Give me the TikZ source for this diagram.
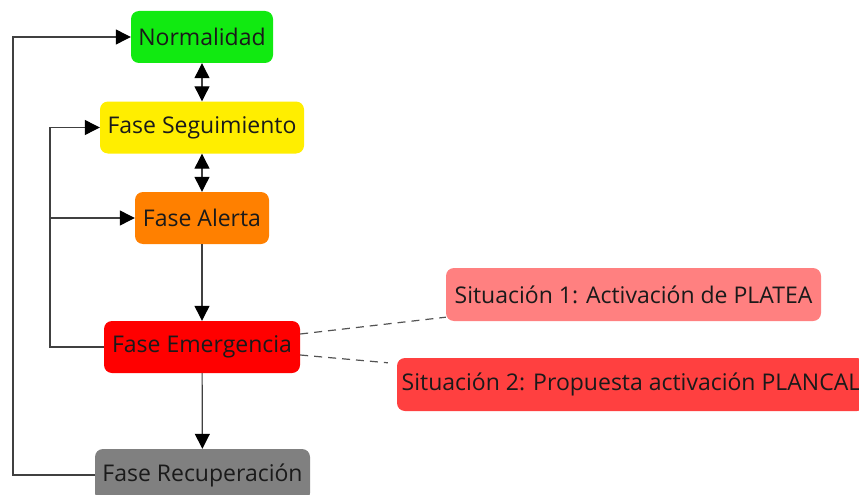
\documentclass[tikz,border=0pt]{standalone}
\usepackage{fontspec}
\setmainfont{Open Sans}
\usetikzlibrary{arrows.meta}
\definecolor{cgreen}{HTML}{11EA11}
\definecolor{cyellow}{HTML}{FFEE00}
\definecolor{corange}{HTML}{FF8000}
\definecolor{cred}{HTML}{FF0000}
\definecolor{cgrey}{HTML}{808080}
\definecolor{csitA}{HTML}{FF8080}
\definecolor{csitB}{HTML}{FF4040}
\definecolor{ctext}{HTML}{1A1A1A}
\definecolor{cline}{HTML}{404040}
\tikzset{
  phase/.style={rounded corners=8pt, minimum height=52pt, inner sep=0pt,
    text=ctext, font=\fontsize{23}{27}\selectfont},
  conn/.style={draw=cline, line width=1.2pt},
  tip/.tip={Triangle[width=15pt,length=15pt,fill=black,color=black]},
  arr/.style={conn, -tip},
  dbl/.style={conn, tip-tip},
  dsh/.style={draw=cline!90, line width=1.2pt, dash pattern=on 8pt off 6pt}
}
\begin{document}
\begin{tikzpicture}[x=1pt,y=-1pt]
\useasboundingbox (0,0) rectangle (859,495);
\fill[white] (0,0) rectangle (859,495);
\clip (0,0) rectangle (859,495);
\node[phase, fill=cgreen, minimum width=142pt] (nor) at (202,37) {Normalidad};
\node[phase, fill=cyellow, minimum width=204pt] (seg) at (202,127.5) {Fase Seguimiento};
\node[phase, fill=corange, minimum width=134pt] (al) at (202,218) {Fase Alerta};
\node[phase, fill=cred, minimum width=196pt] (em) at (202,347) {Fase Emergencia};
\node[phase, fill=cgrey, minimum width=215pt] (rec) at (202.5,475) {Fase Recuperación};
\node[phase, fill=csitA, minimum width=375pt, minimum height=53pt] (s1) at (633.5,294.5) {Situación 1: Activación de PLATEA};
\node[phase, fill=csitB, minimum width=468pt, minimum height=53pt] (s2) at (631,384.5) {Situación 2: Propuesta activación PLANCAL};
\coordinate (L1) at (13,0);
\coordinate (L2) at (50,0);
\draw[dbl] (nor) -- (seg);
\draw[dbl] (seg) -- (al);
\draw[arr] (al) -- (em);
\draw[arr] (em) -- (rec);
\draw[arr] (rec.west) -- (rec.west -| L1) |- (nor.west);
\draw[arr] (em.west) -- (em.west -| L2) |- (seg.west);
\draw[arr] (al.west -| L2) -- (al.west);
\draw[dsh] ([yshift=13pt]em.east) -- ([yshift=4pt]s1.south west);
\draw[dsh] ([yshift=-8pt]em.east) -- ([xshift=-9pt,yshift=-5pt]s2.north west);
\end{tikzpicture}
\end{document}
